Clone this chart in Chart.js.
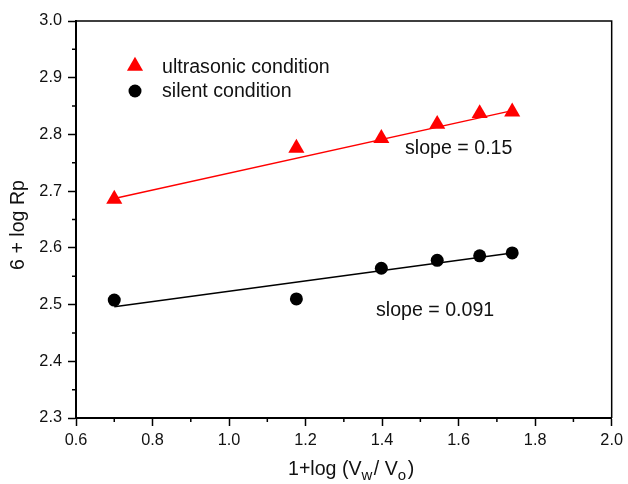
<!DOCTYPE html>
<html>
<head>
<meta charset="utf-8">
<script src="https://cdn.jsdelivr.net/npm/chart.js@4"></script>
<style>
  html, body { margin: 0; padding: 0; background: #fff; }
  canvas { display: block; }
</style>
</head>
<body>
<canvas id="chart" width="628" height="484"></canvas>
<script>
// measured points
const xVals = [0.70, 1.176, 1.398, 1.544, 1.655, 1.740];
const ultrasonic = [2.686, 2.776, 2.793, 2.818, 2.837, 2.840];
const silent = [2.508, 2.510, 2.564, 2.578, 2.586, 2.591];

// linear fits (end points)
const fitX = [0.70, 1.74];
const ultrasonicFit = [2.687, 2.842];
const silentFit = [2.496, 2.591];

const xMinorTicks = [0.7, 0.9, 1.1, 1.3, 1.5, 1.7, 1.9];
const yMinorTicks = [2.35, 2.45, 2.55, 2.65, 2.75, 2.85, 2.95];

const labels = ["ultrasonic condition", "silent condition"];
const slopeLabels = ["slope = 0.15", "slope = 0.091"];

function toPts(xs, ys) {
  return xs.map((x, i) => ({ x: x, y: ys[i] }));
}

const FONT = "Arial, 'Liberation Sans', sans-serif";
const RED = "#ff0000";

const extras = {
  id: "extras",
  afterDraw(chart) {
    const ctx = chart.ctx;
    const a = chart.chartArea;
    const xs = chart.scales.x, ys = chart.scales.y;
    ctx.save();

    // top + right frame
    ctx.strokeStyle = "#000";
    ctx.lineWidth = 1.5;
    ctx.beginPath();
    ctx.moveTo(a.left, a.top);
    ctx.lineTo(a.right, a.top);
    ctx.lineTo(a.right, a.bottom);
    ctx.stroke();

    // minor ticks
    ctx.beginPath();
    xMinorTicks.forEach(v => {
      const px = xs.getPixelForValue(v);
      ctx.moveTo(px, a.bottom);
      ctx.lineTo(px, a.bottom + 4);
    });
    yMinorTicks.forEach(v => {
      const py = ys.getPixelForValue(v);
      ctx.moveTo(a.left, py);
      ctx.lineTo(a.left - 4, py);
    });
    ctx.stroke();

    // legend
    ctx.fillStyle = RED;
    ctx.beginPath();
    const tr = 9.3, tx = 135, ty = 66;
    ctx.moveTo(tx, ty - tr);
    ctx.lineTo(tx + Math.sin(2 * Math.PI / 3) * tr, ty - Math.cos(2 * Math.PI / 3) * tr);
    ctx.lineTo(tx + Math.sin(4 * Math.PI / 3) * tr, ty - Math.cos(4 * Math.PI / 3) * tr);
    ctx.closePath();
    ctx.fill();
    ctx.fillStyle = "#000";
    ctx.beginPath();
    ctx.arc(135, 91, 6.5, 0, Math.PI * 2);
    ctx.fill();

    ctx.fillStyle = "#111";
    ctx.font = "19.6px " + FONT;
    ctx.textBaseline = "alphabetic";
    ctx.textAlign = "left";
    ctx.fillText(labels[0], 162, 73);
    ctx.fillText(labels[1], 162, 97);

    // slope notes
    ctx.fillText(slopeLabels[0], xs.getPixelForValue(1.46), ys.getPixelForValue(2.765));
    ctx.fillText(slopeLabels[1], xs.getPixelForValue(1.384), ys.getPixelForValue(2.480));

    // y title
    ctx.save();
    ctx.translate(24, 225);
    ctx.rotate(-Math.PI / 2);
    ctx.textAlign = "center";
    ctx.fillText("6 + log Rp", 0, 0);
    ctx.restore();

    // x title with subscripts
    let x = 288;
    const base = 475;
    const parts = [
      ["1+log (V", false], ["w", true], ["/ V", false], ["o", true], [")", false]
    ];
    parts.forEach(p => {
      ctx.font = (p[1] ? "15px " : "19.6px ") + FONT;
      ctx.fillText(p[0], x, p[1] ? base + 5 : base);
      x += ctx.measureText(p[0]).width + (p[1] ? 1.5 : 0);
    });

    ctx.restore();
  }
};

new Chart(document.getElementById("chart"), {
  type: "scatter",
  data: {
    datasets: [
      {
        label: labels[0],
        data: toPts(xVals, ultrasonic),
        pointStyle: "triangle",
        pointRadius: 9.3,
        backgroundColor: RED,
        borderColor: RED,
        borderWidth: 0
      },
      {
        label: labels[1],
        data: toPts(xVals, silent),
        pointStyle: "circle",
        pointRadius: 6.5,
        backgroundColor: "#000",
        borderColor: "#000",
        borderWidth: 0
      },
      {
        type: "line",
        data: toPts(fitX, ultrasonicFit),
        borderColor: RED,
        borderWidth: 1.5,
        pointRadius: 0
      },
      {
        type: "line",
        data: toPts(fitX, silentFit),
        borderColor: "#000",
        borderWidth: 1.5,
        pointRadius: 0
      }
    ]
  },
  options: {
    responsive: false,
    animation: false,
    layout: { padding: { top: 21, right: 13, left: 0, bottom: 0 } },
    plugins: { legend: { display: false }, tooltip: { enabled: false } },
    scales: {
      x: {
        type: "linear",
        min: 0.6,
        max: 2.0,
        afterFit: s => { s.height = 66; },
        ticks: {
          stepSize: 0.2,
          callback: v => v.toFixed(1),
          font: { size: 16.3, family: FONT },
          color: "#111",
          padding: 5,
          maxRotation: 0
        },
        grid: { drawOnChartArea: false, tickLength: 8, tickWidth: 1.5, tickColor: "#000" },
        border: { color: "#000", width: 2 }
      },
      y: {
        type: "linear",
        min: 2.3,
        max: 3.0,
        afterFit: s => { s.width = 76; },
        ticks: {
          stepSize: 0.1,
          callback: v => v.toFixed(1),
          font: { size: 16.3, family: FONT },
          color: "#111",
          padding: 6
        },
        grid: { drawOnChartArea: false, tickLength: 8, tickWidth: 1.5, tickColor: "#000" },
        border: { color: "#000", width: 2 }
      }
    }
  },
  plugins: [extras]
});
</script>
</body>
</html>
